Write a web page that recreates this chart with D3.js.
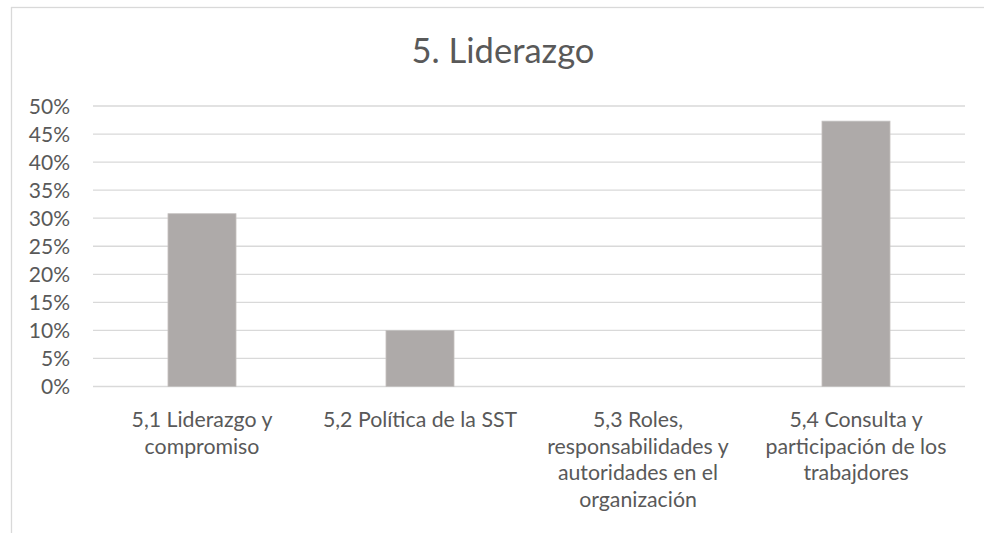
<!DOCTYPE html>
<html lang="es">
<head>
<meta charset="utf-8">
<title>5. Liderazgo</title>
<script src="https://d3js.org/d3.v7.min.js"></script>
<style>
body {
  margin: 0;
  background-color: white;
  font-family: Lato, "Noto Sans", sans-serif;
}
svg { display: block; }
.grid line { stroke: #d9d9d9; stroke-width: 1.3px; }
.label { fill: #595959; }
</style>
</head>
<body>
<script>

// categories (one entry per line of the axis label) and values in %
var categories = ["5,1", "5,2", "5,3", "5,4"];
var catLines = [
  ["5,1 Liderazgo y", "compromiso"],
  ["5,2 Política de la SST"],
  ["5,3 Roles,", "responsabilidades y", "autoridades en el", "organización"],
  ["5,4 Consulta y", "participación de los", "trabajdores"]
];
var values = [30.8, 10, 0, 47.3];
var yTicks = [0, 5, 10, 15, 20, 25, 30, 35, 40, 45, 50];

var width = 984, height = 533;
var svg = d3.select("body").append("svg").attr("width", width).attr("height", height);

// chart frame (runs off the right and bottom of the picture)
svg.append("rect")
  .attr("x", 11.5).attr("y", 7.5)
  .attr("width", 990).attr("height", 560)
  .attr("fill", "white")
  .attr("stroke", "#d9d9d9")
  .attr("stroke-width", 1.3);

var x = d3.scaleBand().domain(categories).range([93, 965]).paddingInner(0.688).paddingOuter(0.344);
var y = d3.scaleLinear().domain([0, 50]).range([386.5, 106]);

// title
svg.append("text")
  .attr("class", "label")
  .attr("x", 503).attr("y", 63)
  .attr("text-anchor", "middle")
  .style("font-size", "34.5px")
  .text("5. Liderazgo");

// gridlines
svg.append("g").attr("class", "grid")
  .selectAll("line")
  .data(yTicks)
  .enter().append("line")
  .attr("x1", 93).attr("x2", 965)
  .attr("y1", function(d) { return y(d); })
  .attr("y2", function(d) { return y(d); });

// y tick labels
svg.append("g")
  .selectAll("text")
  .data(yTicks)
  .enter().append("text")
  .attr("class", "label")
  .attr("x", 70)
  .attr("y", function(d) { return y(d); })
  .attr("dy", "0.36em")
  .attr("text-anchor", "end")
  .style("font-size", "21px")
  .text(function(d) { return d + "%"; });

// bars
svg.append("g")
  .selectAll("rect")
  .data(values)
  .enter().append("rect")
  .attr("x", function(d, i) { return x(categories[i]); })
  .attr("width", x.bandwidth())
  .attr("y", function(d) { return y(d); })
  .attr("height", function(d) { return y(0) - y(d); })
  .attr("fill", "#aeaaa9")
  .attr("stroke", "#c4c1c0")
  .attr("stroke-width", 0.8);

// category labels
var cat = svg.append("g")
  .selectAll("text")
  .data(catLines)
  .enter().append("text")
  .attr("class", "label")
  .attr("text-anchor", "middle")
  .style("font-size", "21.3px")
  .attr("transform", function(d, i) {
    return "translate(" + (x(categories[i]) + x.bandwidth() / 2) + "," + 427 + ")";
  });

cat.selectAll("tspan")
  .data(function(d) { return d; })
  .enter().append("tspan")
  .attr("x", 0)
  .attr("y", function(d, j) { return j * 26.7; })
  .text(function(d) { return d; });

</script>
</body>
</html>
